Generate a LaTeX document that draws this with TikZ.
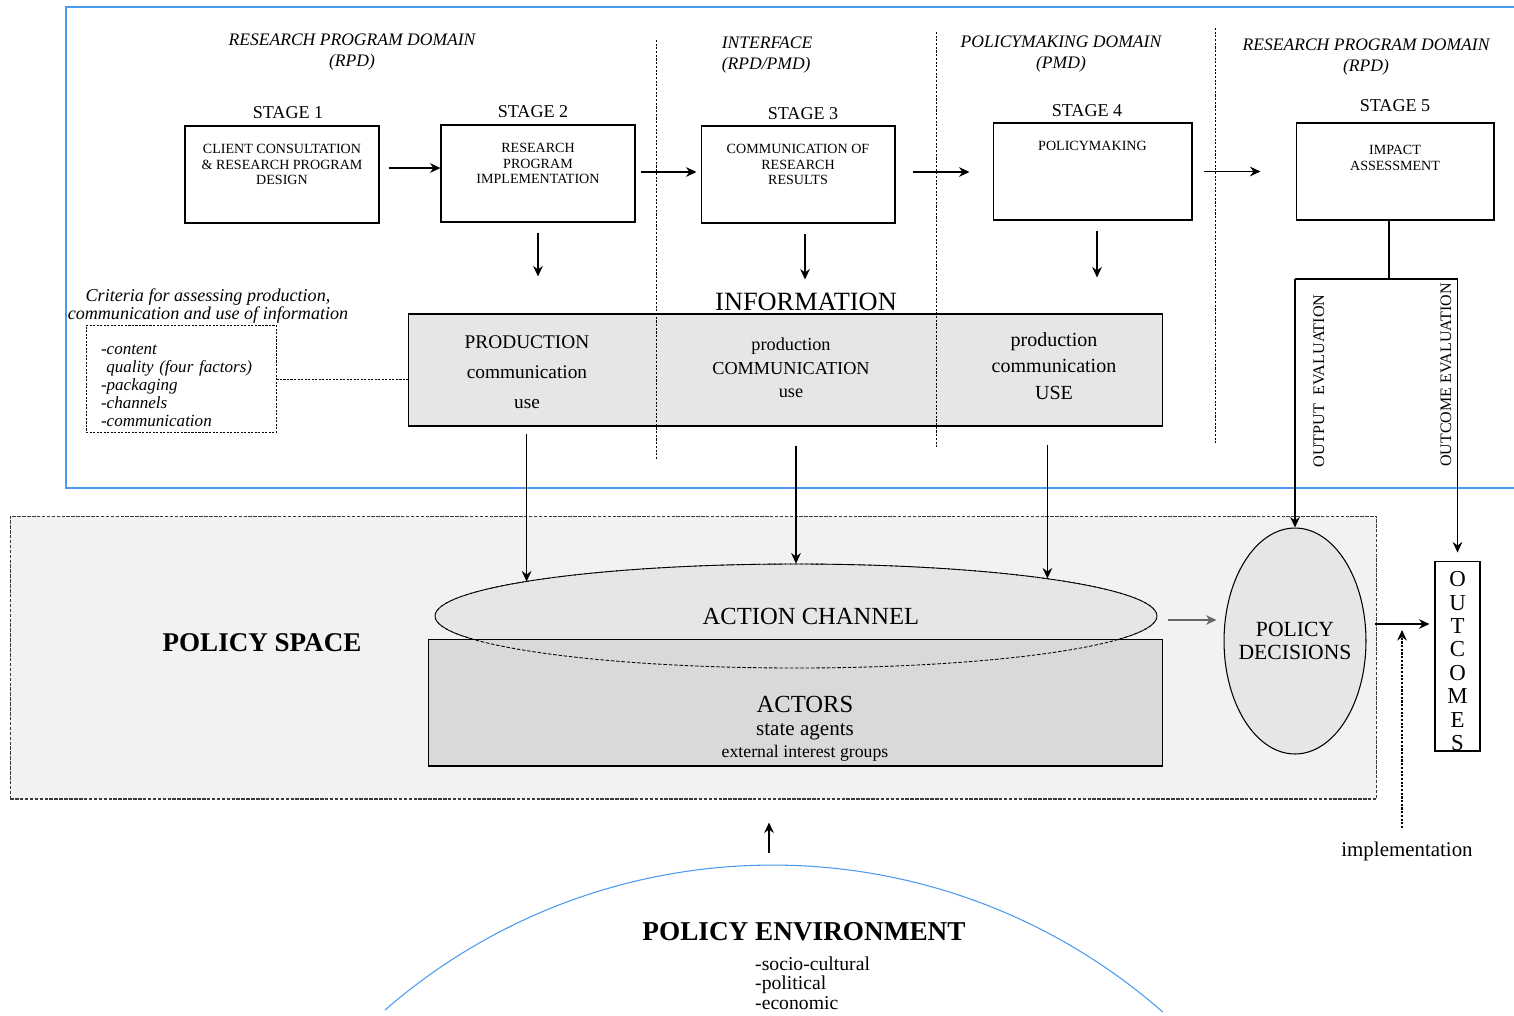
\documentclass[tikz,border=0pt]{standalone}
\usepackage{fontspec}
\setmainfont{Liberation Serif}
\usetikzlibrary{shapes.geometric, arrows.meta}
\definecolor{FrameBlue}{HTML}{4A9AF0}
\definecolor{SpaceGray}{HTML}{F2F2F2}
\definecolor{BoxGray}{HTML}{E6E6E6}
\definecolor{ActorGray}{HTML}{D9D9D9}
\definecolor{LineGray}{HTML}{3A3A3A}
\newcommand{\stagetext}[2]{\parbox[c][1.94cm][t]{#1}{\centering\vspace*{0.36cm}#2}}
\tikzset{
    % boxes of the five stages
    stage box/.style={
        rectangle,
        draw=black,
        line width=0.6pt,
        inner sep=0pt,
        font=\fontsize{8}{9}\selectfont
    },
    stage label/.style={
        font=\fontsize{10.3}{12}\selectfont
    },
    domain label/.style={
        align=center,
        font=\fontsize{10}{11.9}\selectfont\itshape
    },
    info box/.style={
        rectangle,
        draw=black,
        fill=BoxGray,
        line width=0.6pt,
        minimum width=15.1cm,
        minimum height=2.24cm
    },
    criteria box/.style={
        rectangle,
        draw=black,
        line width=0.5pt,
        dash pattern=on 1.2pt off 0.8pt,
        text width=3.2cm,
        inner xsep=0.3cm,
        minimum height=2.08cm,
        align=left,
        font=\fontsize{9.7}{10.2}\selectfont\itshape
    },
    space box/.style={
        rectangle,
        draw=LineGray,
        fill=SpaceGray,
        line width=0.6pt,
        dash pattern=on 2pt off 0.8pt,
        minimum width=27.34cm,
        minimum height=5.66cm
    },
    channel/.style={
        ellipse,
        draw=black,
        fill=BoxGray,
        line width=0.5pt,
        dash pattern=on 2pt off 1pt,
        minimum width=14.44cm,
        minimum height=2.08cm,
        font=\fontsize{14}{16}\selectfont
    },
    actor box/.style={
        rectangle,
        draw=black,
        fill=ActorGray,
        line width=0.6pt,
        minimum width=14.7cm,
        minimum height=2.54cm
    },
    decision/.style={
        ellipse,
        draw=black,
        fill=BoxGray,
        line width=0.6pt,
        inner sep=0pt,
        minimum width=2.84cm,
        minimum height=4.52cm,
        align=center,
        font=\fontsize{12.3}{13}\selectfont
    },
    outcome box/.style={
        rectangle,
        draw=black,
        line width=0.6pt,
        minimum width=0.9cm,
        minimum height=3.8cm,
        inner sep=0pt,
        align=center,
        font=\fontsize{13}{13.3}\selectfont
    },
    separator/.style={
        line width=0.4pt,
        dash pattern=on 1.2pt off 0.9pt
    },
    dotted link/.style={
        line width=0.5pt,
        dash pattern=on 1.2pt off 0.8pt
    },
    arrow style/.style={
        ->,
        >={Stealth[length=6pt, width=5.5pt, inset=2pt]},
        line width=0.6pt,
        black
    },
    gray arrow style/.style={
        arrow style,
        draw=black!60
    },
    dotted arrow style/.style={
        arrow style,
        dash pattern=on 1.2pt off 0.9pt
    }
}

\begin{document}
\begin{tikzpicture}[x=0.02cm, y=-0.02cm]
    \path[use as bounding box, fill=white] (0,0) rectangle (1514,1015);

    \draw[FrameBlue, line width=0.6pt] (1514,7) -- (66,7) -- (66,488) -- (1514,488);

    % domains and stages
    \node[domain label] (dom1) at (352,52) {RESEARCH PROGRAM DOMAIN\\(RPD)};
    \node[domain label, align=left] (dom2) at (767,55) {INTERFACE\\(RPD/PMD)};
    \node[domain label] (dom3) at (1061,54) {POLICYMAKING DOMAIN\\(PMD)};
    \node[domain label] (dom4) at (1366,57) {RESEARCH PROGRAM DOMAIN\\(RPD)};

    \node[stage label] (lab1) at (288,113) {STAGE 1};
    \node[stage label] (lab2) at (533,112) {STAGE 2};
    \node[stage label] (lab3) at (803,114) {STAGE 3};
    \node[stage label] (lab4) at (1087,111) {STAGE 4};
    \node[stage label] (lab5) at (1395,106) {STAGE 5};

    \node[stage box] (s1) at (282,174.5) {\stagetext{3.88cm}{CLIENT CONSULTATION\\ \& RESEARCH PROGRAM\\DESIGN}};
    \node[stage box] (s2) at (538,173.5) {\stagetext{3.88cm}{RESEARCH\\PROGRAM\\IMPLEMENTATION}};
    \node[stage box] (s3) at (798,174.5) {\stagetext{3.88cm}{COMMUNICATION OF\\RESEARCH\\RESULTS}};
    \node[stage box] (s4) at (1092.5,171.5) {\stagetext{3.98cm}{POLICYMAKING}};
    \node[stage box] (s5) at (1395,171.5) {\stagetext{3.96cm}{\vspace*{0.08cm}IMPACT\\ASSESSMENT}};

    \draw[arrow style, shorten <=0.18cm] ([yshift=0.13cm]s1.east) -- ([yshift=0.13cm]s1.east -| s2.west);
    \draw[arrow style, shorten <=0.1cm, shorten >=0.08cm] ([yshift=0.03cm]s2.east) -- ([yshift=0.03cm]s2.east -| s3.west);
    \draw[arrow style, shorten <=0.34cm, shorten >=0.46cm] ([yshift=0.05cm]s3.east) -- ([yshift=0.05cm]s3.east -| s4.west);
    \draw[arrow style, shorten <=0.22cm, shorten >=0.7cm] (s4.east) -- (s4.east -| s5.west);

    % information
    \node[info box] (info) at (785.5,370) {};
    \node[font=\fontsize{15}{17}\selectfont] (infolab) at (806,302) {INFORMATION};
    \node[align=center, font=\fontsize{11}{17}\selectfont] (prod) at (527,372) {PRODUCTION\\communication\\use};
    \node[align=center, font=\fontsize{10.4}{13.5}\selectfont] (comm) at (791,368) {production\\COMMUNICATION\\use};
    \node[align=center, font=\fontsize{11.4}{15}\selectfont] (usecol) at (1054,366) {production\\communication\\USE};

    \draw[separator] (656,40) -- (656,460);
    \draw[separator] (936,32) -- (936,448);
    \draw[separator] (1215,28) -- (1215,443);

    \draw[arrow style, shorten <=0.2cm, shorten >=0.74cm] (s2.south) -- (s2.south |- info.north);
    \draw[arrow style, shorten <=0.2cm, shorten >=0.68cm] ([xshift=0.14cm]s3.south) -- ([xshift=0.14cm]s3.south |- info.north);
    \draw[arrow style, shorten <=0.2cm, shorten >=0.72cm] ([xshift=0.09cm]s4.south) -- ([xshift=0.09cm]s4.south |- info.north);

    % criteria
    \node[domain label, font=\fontsize{10.3}{10.2}\selectfont\itshape] (crithead) at (208,306) {Criteria for assessing production,\\communication and use of information};
    \node[criteria box] (crit) at (181,379) {\rule{0pt}{13.5pt}-content\\\hspace*{3pt}quality (four factors)\\-packaging\\-channels\\-communication};
    \draw[dotted link] (crit.east) -- (crit.east -| info.west);

    % policy space
    \node[space box] (pspace) at (693.5,657.5) {};
    \node[font=\fontsize{15.4}{18}\selectfont\bfseries] (pspacelab) at (262,643) {POLICY SPACE};

    \node[channel] (chan) at (796,616) {\hspace*{0.6cm}ACTION CHANNEL};
    \node[actor box] (actors) at (795.5,702.5) {};
    \draw[line width=0.5pt, dash pattern=on 2pt off 1pt] (chan.center) ellipse (361 and 52);
    \node[align=center, font=\fontsize{12}{12.8}\selectfont] (actorlab) at (805,729) {{\fontsize{14}{15}\selectfont ACTORS}\\state agents\\{\fontsize{10.1}{12}\selectfont external interest groups}};

    \draw[arrow style, shorten <=0.14cm, shorten >=0.69cm] ([xshift=1.84cm]info.south -| chan.west) -- ([xshift=1.84cm]chan.west);
    \draw[arrow style, shorten <=0.38cm] (info.south -| chan.north) -- (chan.north);
    \draw[arrow style, shorten <=0.36cm, shorten >=0.75cm] ([xshift=-2.2cm]info.south -| chan.east) -- ([xshift=-2.2cm]chan.east);

    \node[decision] (dec) at (1295,641) {\makebox[0pt]{POLICY}\\\makebox[0pt]{DECISIONS}};
    \draw[gray arrow style, shorten <=0.22cm, shorten >=0.14cm] ([yshift=-0.08cm]chan.east) -- ([yshift=-0.08cm]chan.east -| dec.west);

    \node[outcome box] (outc) at (1457.5,656) {\rule{0pt}{14.5pt}O\\U\\T\\C\\O\\M\\E\\S};
    \draw[arrow style, shorten <=0.16cm, shorten >=0.1cm] ([yshift=0.34cm]dec.east) -- ([yshift=0.34cm]dec.east -| outc.west);

    % evaluation
    \coordinate (evaltop) at (1389,279);
    \coordinate (evalL) at (1295,279);
    \coordinate (evalR) at (1457.5,279);
    \draw[line width=0.6pt] (s5.south -| evaltop) -- (evaltop);
    \draw[line width=0.6pt] (evalL) -- (evalR);
    \draw[arrow style] (evalL) -- (dec.north);
    \draw[arrow style, shorten >=0.16cm] (evalR) -- (outc.north);
    \node[rotate=90, font=\fontsize{9.2}{11}\selectfont] (outputev) at (1319,381) {OUTPUT\ \ EVALUATION};
    \node[rotate=90, font=\fontsize{9.1}{11}\selectfont] (outcomeev) at (1446,375) {OUTCOME EVALUATION};

    % implementation
    \node[font=\fontsize{11.9}{14}\selectfont] (impl) at (1407,851) {implementation};
    \coordinate (implbase) at (1402,828);
    \coordinate (impltip) at (1402,630);
    \draw[dotted arrow style] (implbase) -- (impltip);

    % environment
    \draw[FrameBlue, line width=0.6pt] (385,1010) arc[start angle=229, end angle=311.3, radius=591];
    \node[font=\fontsize{15.5}{18}\selectfont\bfseries] (env) at (804,932) {POLICY ENVIRONMENT};
    \node[align=left, anchor=west, font=\fontsize{11.2}{11}\selectfont] (envlist) at (749,983) {-socio-cultural\\-political\\-economic};
    \coordinate (envtop) at (769,853);
    \draw[arrow style, shorten >=0.46cm] (envtop) -- (envtop |- pspace.south);
\end{tikzpicture}
\end{document}
